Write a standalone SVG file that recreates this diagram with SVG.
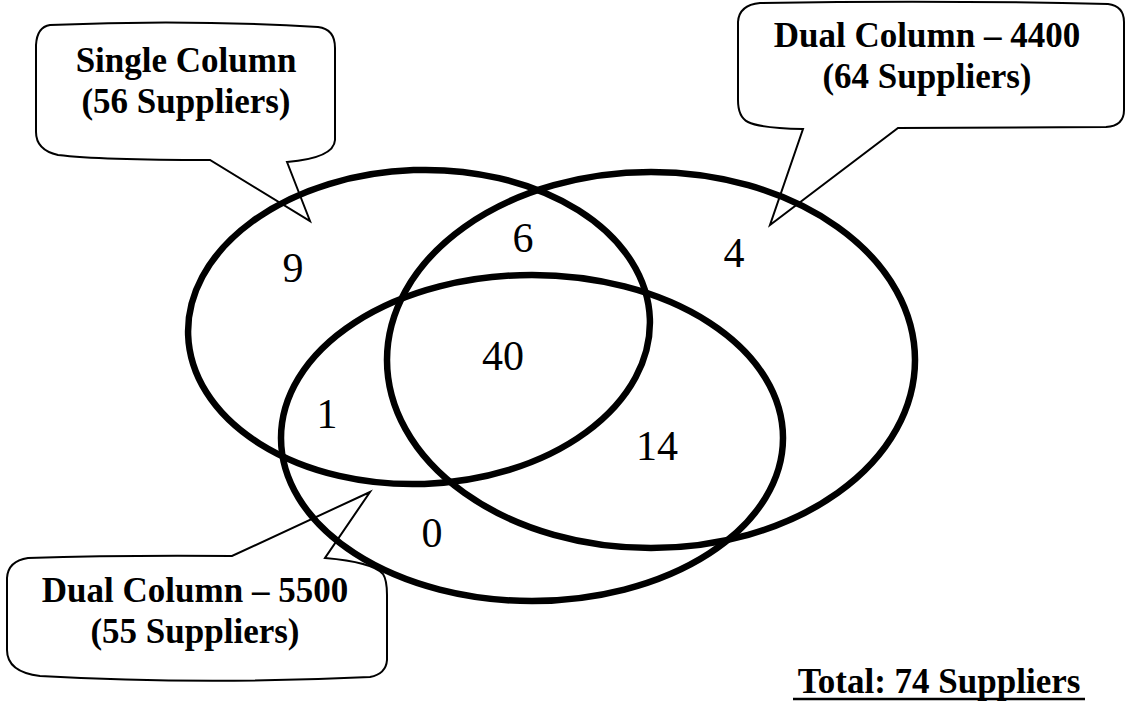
<svg xmlns="http://www.w3.org/2000/svg" width="1126" height="719" viewBox="0 0 1126 719">
  <style>
    .callout { fill: #ffffff; stroke: #000000; stroke-width: 2; stroke-linejoin: miter; }
    .set { fill: none; stroke: #000000; stroke-width: 6.5; }
    .title { font-family: "Liberation Serif", "Times New Roman", serif; font-weight: bold; font-size: 35px; fill: #000000; text-anchor: middle; }
    .count { font-family: "Liberation Serif", "Times New Roman", serif; font-size: 42px; fill: #000000; text-anchor: middle; }
  </style>
  <rect width="1126" height="719" fill="#ffffff"/>

  <!-- Callout boxes with their pointers -->
  <g id="callout-single">
    <path class="callout" d="M 50,25 Q 186,19 318,27 Q 335,29 335,48 L 335,140 Q 334,158 287,162 L 310,221 L 210,160 Q 100,160 58,155 Q 36,150 36,132 L 36,45 Q 37,27 50,25 Z"/>
    <text class="title" x="186" y="72">Single Column</text>
    <text class="title" x="186" y="113">(56 Suppliers)</text>
  </g>

  <g id="callout-dual-4400">
    <path class="callout" d="M 760,3 Q 940,0 1108,4 Q 1124,6 1124,22 L 1124,110 Q 1124,126 1106,127 L 898,128 L 770,225 L 803,129 Q 760,128 748,122 Q 738,117 738,100 L 738,22 Q 739,5 760,3 Z"/>
    <text class="title" x="927" y="47">Dual Column – 4400</text>
    <text class="title" x="927" y="88">(64 Suppliers)</text>
  </g>

  <g id="callout-dual-5500">
    <path class="callout" d="M 28,558 Q 120,555 232,556 L 370,492 L 325,558 Q 372,562 383,574 Q 387,580 387,595 L 387,660 Q 386,674 370,677 Q 200,685 40,676 Q 7,672 7,650 L 7,578 Q 8,561 28,558 Z"/>
    <text class="title" x="195" y="602">Dual Column – 5500</text>
    <text class="title" x="195" y="643">(55 Suppliers)</text>
  </g>

  <!-- Supplier sets -->
  <g id="set-single">
    <ellipse class="set" cx="419" cy="327" rx="231" ry="157" transform="rotate(-2 419 327)"/>
  </g>
  <g id="set-dual-4400">
    <ellipse class="set" cx="651" cy="360" rx="264" ry="188"/>
  </g>
  <g id="set-dual-5500">
    <ellipse class="set" cx="532" cy="438" rx="251" ry="163"/>
  </g>

  <!-- Region counts -->
  <g id="counts">
    <text class="count" x="293" y="282">9</text>
    <text class="count" x="523" y="252">6</text>
    <text class="count" x="734" y="267">4</text>
    <text class="count" x="503" y="370">40</text>
    <text class="count" x="327" y="428">1</text>
    <text class="count" x="657" y="460">14</text>
    <text class="count" x="432" y="547">0</text>
  </g>

  <!-- Overall total -->
  <g id="total">
    <text class="title" x="939" y="693">Total: 74 Suppliers</text>
    <line x1="793" y1="699" x2="1085" y2="699" stroke="#000000" stroke-width="2.5"/>
  </g>
</svg>
